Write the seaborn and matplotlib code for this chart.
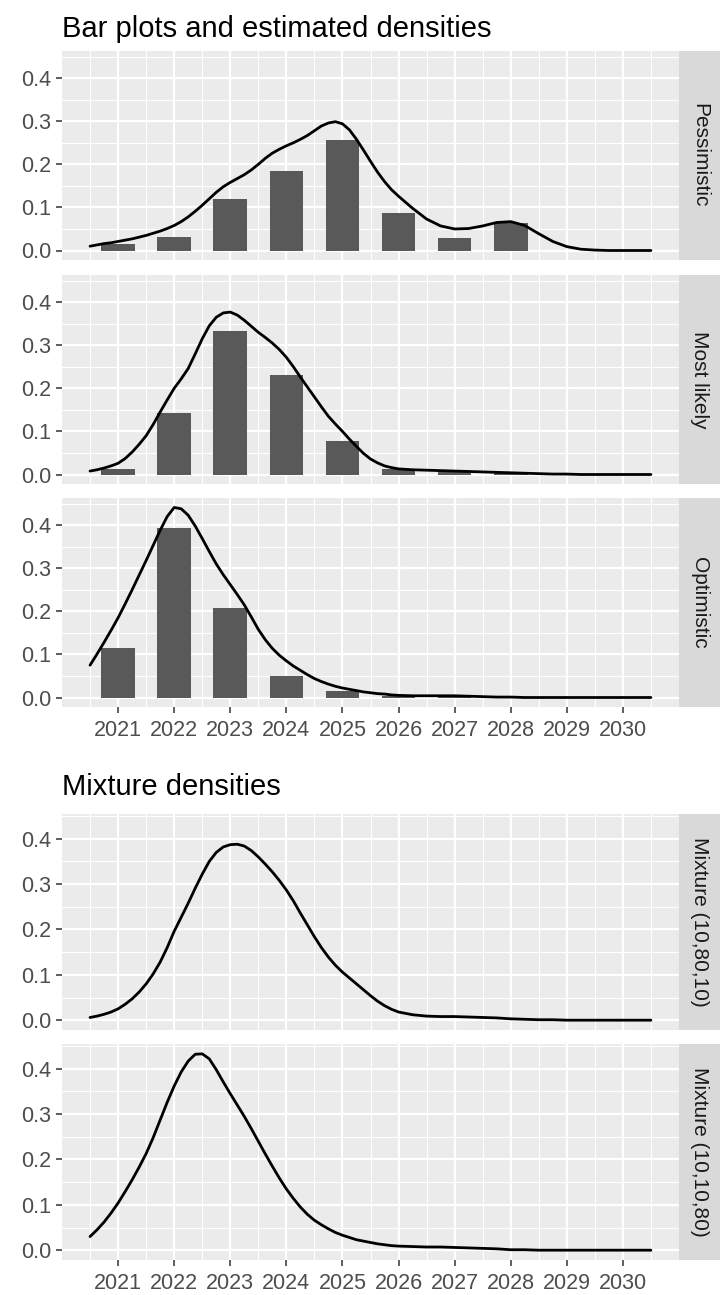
import matplotlib
matplotlib.use("Agg")
import matplotlib.pyplot as plt
from matplotlib.ticker import FixedLocator
import numpy as np
import seaborn as sns

# --- data ------------------------------------------------------------------
years = [2021, 2022, 2023, 2024, 2025, 2026, 2027, 2028, 2029, 2030]

bars_pessimistic = [0.015, 0.032, 0.120, 0.185, 0.257, 0.088, 0.030, 0.063, 0.0, 0.0]
bars_most_likely = [0.013, 0.143, 0.333, 0.230, 0.078, 0.012, 0.007, 0.004, 0.0, 0.0]
bars_optimistic = [0.115, 0.393, 0.208, 0.050, 0.015, 0.004, 0.005, 0.001, 0.0, 0.0]

# density curves: read every 1/8 year up to 2026, then every 1/4 year to 2030.5
curve_x = np.concatenate([np.arange(2020.5, 2026.01, 0.125), np.arange(2026.25, 2030.51, 0.25)])

dens_pessimistic = [
    0.010, 0.013, 0.016, 0.018, 0.021, 0.024, 0.027, 0.031, 0.035, 0.040,
    0.045, 0.051, 0.058, 0.067, 0.078, 0.091, 0.105, 0.120, 0.135, 0.148,
    0.158, 0.167, 0.176, 0.187, 0.200, 0.214, 0.226, 0.235, 0.243, 0.250,
    0.258, 0.267, 0.278, 0.289, 0.296, 0.299, 0.294, 0.280, 0.258, 0.233,
    0.207, 0.182, 0.160, 0.141, 0.126,
    0.098, 0.073, 0.057, 0.050, 0.051, 0.057, 0.065, 0.067, 0.058, 0.039,
    0.021, 0.009, 0.003, 0.001, 0.0, 0.0, 0.0, 0.0]
dens_most_likely = [
    0.008, 0.011, 0.015, 0.020, 0.026, 0.037, 0.052, 0.070, 0.090, 0.116,
    0.145, 0.173, 0.200, 0.222, 0.246, 0.280, 0.315, 0.345, 0.365, 0.375,
    0.377, 0.370, 0.358, 0.344, 0.330, 0.318, 0.305, 0.290, 0.272, 0.250,
    0.226, 0.203, 0.180, 0.157, 0.135, 0.117, 0.100, 0.082, 0.065, 0.049,
    0.036, 0.027, 0.020, 0.016, 0.013,
    0.011, 0.010, 0.009, 0.008, 0.007, 0.006, 0.005, 0.004, 0.003, 0.002,
    0.001, 0.001, 0.0, 0.0, 0.0, 0.0, 0.0, 0.0]
dens_optimistic = [
    0.075, 0.101, 0.128, 0.156, 0.185, 0.217, 0.250, 0.284, 0.318, 0.353,
    0.388, 0.420, 0.441, 0.438, 0.423, 0.398, 0.369, 0.339, 0.310, 0.285,
    0.262, 0.239, 0.215, 0.187, 0.158, 0.134, 0.114, 0.098, 0.085, 0.073,
    0.063, 0.053, 0.044, 0.037, 0.031, 0.026, 0.022, 0.019, 0.016, 0.013,
    0.011, 0.009, 0.008, 0.006, 0.005,
    0.004, 0.004, 0.004, 0.004, 0.003, 0.002, 0.001, 0.001, 0.0, 0.0,
    0.0, 0.0, 0.0, 0.0, 0.0, 0.0, 0.0, 0.0]
dens_mix_10_80_10 = [
    0.006, 0.009, 0.013, 0.018, 0.025, 0.035, 0.047, 0.062, 0.080, 0.102,
    0.128, 0.160, 0.196, 0.227, 0.258, 0.291, 0.322, 0.350, 0.370, 0.382,
    0.387, 0.388, 0.384, 0.374, 0.360, 0.344, 0.327, 0.308, 0.287, 0.263,
    0.236, 0.210, 0.184, 0.160, 0.139, 0.121, 0.106, 0.093, 0.080, 0.067,
    0.054, 0.042, 0.032, 0.024, 0.018,
    0.012, 0.009, 0.008, 0.008, 0.007, 0.006, 0.005, 0.003, 0.002, 0.001,
    0.001, 0.0, 0.0, 0.0, 0.0, 0.0, 0.0, 0.0]
dens_mix_10_10_80 = [
    0.030, 0.045, 0.062, 0.082, 0.104, 0.129, 0.155, 0.183, 0.213, 0.248,
    0.287, 0.326, 0.362, 0.393, 0.417, 0.432, 0.433, 0.422, 0.398, 0.371,
    0.345, 0.320, 0.295, 0.268, 0.240, 0.212, 0.185, 0.159, 0.135, 0.114,
    0.095, 0.079, 0.066, 0.056, 0.047, 0.039, 0.033, 0.028, 0.023, 0.020,
    0.017, 0.014, 0.012, 0.010, 0.009,
    0.008, 0.007, 0.007, 0.006, 0.005, 0.004, 0.003, 0.001, 0.001, 0.0,
    0.0, 0.0, 0.0, 0.0, 0.0, 0.0, 0.0, 0.0]

y_ticks = [0.0, 0.1, 0.2, 0.3, 0.4]
y_tick_labels = ["0.0", "0.1", "0.2", "0.3", "0.4"]

# --- styling ----------------------------------------------------------------
sns.set_theme(style="darkgrid")
plt.rcParams['font.family'] = ['Liberation Sans', 'DejaVu Sans']

W, H = 720, 1295
fig = plt.figure(figsize=(W / 100, H / 100), dpi=100)
fig.patch.set_facecolor("white")

PANEL_L, PANEL_R, STRIP_R = 62, 679, 720
TICK_SIZE = 15.5


def px_axes(x0, y0, x1, y1):
    return fig.add_axes([x0 / W, 1 - y1 / H, (x1 - x0) / W, (y1 - y0) / H])


def draw_panel(top, bottom, label, curve, ymax, bars=None, show_x=False):
    ax = px_axes(PANEL_L, top, PANEL_R, bottom)
    ax.set_facecolor("#EBEBEB")
    if bars is not None:
        sns.barplot(x=years, y=bars, native_scale=True, width=0.6, color="#595959",
                    saturation=1, errorbar=None, linewidth=0, ax=ax)
    sns.lineplot(x=curve_x, y=curve, color="black", linewidth=2.0, ax=ax)

    ax.set_xlim(2020, 2031)
    ax.set_ylim(-0.05 * ymax, 1.05 * ymax)
    ax.set_xlabel("")
    ax.set_ylabel("")
    for s in ax.spines.values():
        s.set_visible(False)

    ax.xaxis.set_major_locator(FixedLocator(years))
    ax.xaxis.set_minor_locator(FixedLocator([y - 0.5 for y in years] + [2030.5]))
    ax.yaxis.set_major_locator(FixedLocator(y_ticks))
    ax.yaxis.set_minor_locator(FixedLocator([0.05, 0.15, 0.25, 0.35, 0.45]))
    ax.set_yticklabels(y_tick_labels)
    ax.set_xticklabels([str(y) for y in years])

    ax.grid(which="major", color="white", linewidth=1.6)
    ax.grid(which="minor", color="white", linewidth=0.8)
    ax.set_axisbelow(True)

    ax.tick_params(axis="both", which="minor", length=0)
    ax.tick_params(axis="y", which="major", length=4.3, width=1.1, color="#333333",
                   labelcolor="#4D4D4D", labelsize=TICK_SIZE, pad=3.5, left=True)
    if show_x:
        ax.tick_params(axis="x", which="major", length=4.3, width=1.1, color="#333333",
                       labelcolor="#4D4D4D", labelsize=TICK_SIZE, pad=5.0, bottom=True)
    else:
        ax.tick_params(axis="x", which="major", length=0, labelbottom=False)

    # facet strip on the right
    sax = px_axes(PANEL_R, top, STRIP_R, bottom)
    sax.set_facecolor("#D9D9D9")
    sax.set_xticks([])
    sax.set_yticks([])
    sax.grid(False)
    for s in sax.spines.values():
        s.set_visible(False)
    sax.text(0.5, 0.5, label, rotation=-90, ha="center", va="center",
             fontsize=15, color="#1A1A1A", transform=sax.transAxes)
    return ax


# top figure: bars + estimated densities
top_max = max(max(bars_pessimistic), max(bars_most_likely), max(bars_optimistic),
              max(dens_pessimistic), max(dens_most_likely), max(dens_optimistic))
draw_panel(51, 260, "Pessimistic", dens_pessimistic, top_max, bars=bars_pessimistic)
draw_panel(275, 484, "Most likely", dens_most_likely, top_max, bars=bars_most_likely)
draw_panel(498, 707, "Optimistic", dens_optimistic, top_max, bars=bars_optimistic, show_x=True)
fig.text(PANEL_L / W, 1 - 37 / H, "Bar plots and estimated densities",
         fontsize=21, ha="left", va="baseline", color="black")

# bottom figure: mixture densities
mix_max = max(max(dens_mix_10_80_10), max(dens_mix_10_10_80))
draw_panel(814, 1030, "Mixture (10,80,10)", dens_mix_10_80_10, mix_max)
draw_panel(1044, 1260, "Mixture (10,10,80)", dens_mix_10_10_80, mix_max, show_x=True)
fig.text(PANEL_L / W, 1 - 795 / H, "Mixture densities",
         fontsize=21, ha="left", va="baseline", color="black")

fig.savefig("out.png", dpi=100)
